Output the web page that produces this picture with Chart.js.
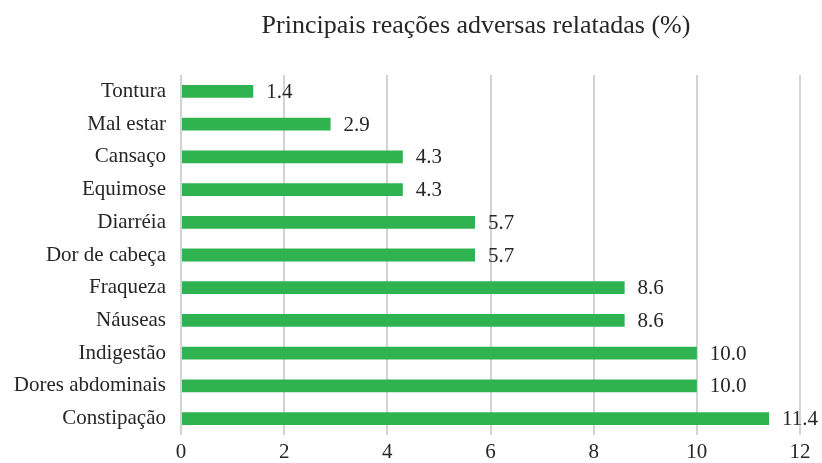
<html lang="pt">
<head>
    <meta charset="utf-8"/>
    <title>Principais reações adversas relatadas</title>
    <script src="https://cdn.jsdelivr.net/npm/chart.js"></script>
    <style>
        body { margin: 0; background: #ffffff; }
        #wrap { width: 822px; height: 463px; }
    </style>
</head>
<body>
<div id="wrap"><canvas id="reacoesChart" width="822" height="463"></canvas></div>
<script>
    // Data
    const categories = ['Tontura', 'Mal estar', 'Cansaço', 'Equimose', 'Diarréia', 'Dor de cabeça',
        'Fraqueza', 'Náuseas', 'Indigestão', 'Dores abdominais', 'Constipação'];
    const percentages = [1.4, 2.9, 4.3, 4.3, 5.7, 5.7, 8.6, 8.6, 10.0, 10.0, 11.4];
    const xTicks = [0, 2, 4, 6, 8, 10, 12];
    const chartTitle = 'Principais reações adversas relatadas (%)';

    const serif = "'Liberation Serif', 'Times New Roman', serif";

    // value at the end of each bar + the title (sits right of centre in the original)
    const valueLabels = {
        id: 'valueLabels',
        afterDatasetsDraw(chart) {
            const ctx = chart.ctx;
            const meta = chart.getDatasetMeta(0);
            ctx.save();
            ctx.font = '21px ' + serif;
            ctx.fillStyle = '#262626';
            ctx.textAlign = 'left';
            ctx.textBaseline = 'middle';
            meta.data.forEach((bar, i) => {
                ctx.fillText(percentages[i].toFixed(1), bar.x + 13, bar.y + 1);
            });
            ctx.font = '26px ' + serif;
            ctx.textAlign = 'center';
            ctx.fillText(chartTitle, 476, 26);
            ctx.restore();
        }
    };

    new Chart(document.getElementById('reacoesChart'), {
        type: 'bar',
        data: {
            labels: categories,
            datasets: [{
                data: percentages,
                backgroundColor: '#2eb350',
                borderWidth: 0,
                barPercentage: 0.78,
                categoryPercentage: 0.5
            }]
        },
        options: {
            indexAxis: 'y',
            responsive: false,
            animation: false,
            layout: { padding: { top: 75, right: 22, left: 0, bottom: 0 } },
            plugins: {
                legend: { display: false },
                tooltip: { enabled: false },
                title: { display: false }
            },
            scales: {
                x: {
                    min: 0,
                    max: 12,
                    afterBuildTicks: (scale) => { scale.ticks = xTicks.map(v => ({ value: v })); },
                    afterFit: (scale) => { scale.height = 28; },
                    grid: { color: '#d3d3d3', lineWidth: 2, drawTicks: false },
                    border: { display: false },
                    ticks: {
                        color: '#262626',
                        padding: 5,
                        font: { family: serif, size: 21 }
                    }
                },
                y: {
                    grid: { display: false, drawTicks: false },
                    border: { display: false },
                    afterFit: (scale) => { scale.width = 181; },
                    ticks: {
                        color: '#262626',
                        padding: 15,
                        font: { family: serif, size: 21 }
                    }
                }
            }
        },
        plugins: [valueLabels]
    });
</script>
</body>
</html>
